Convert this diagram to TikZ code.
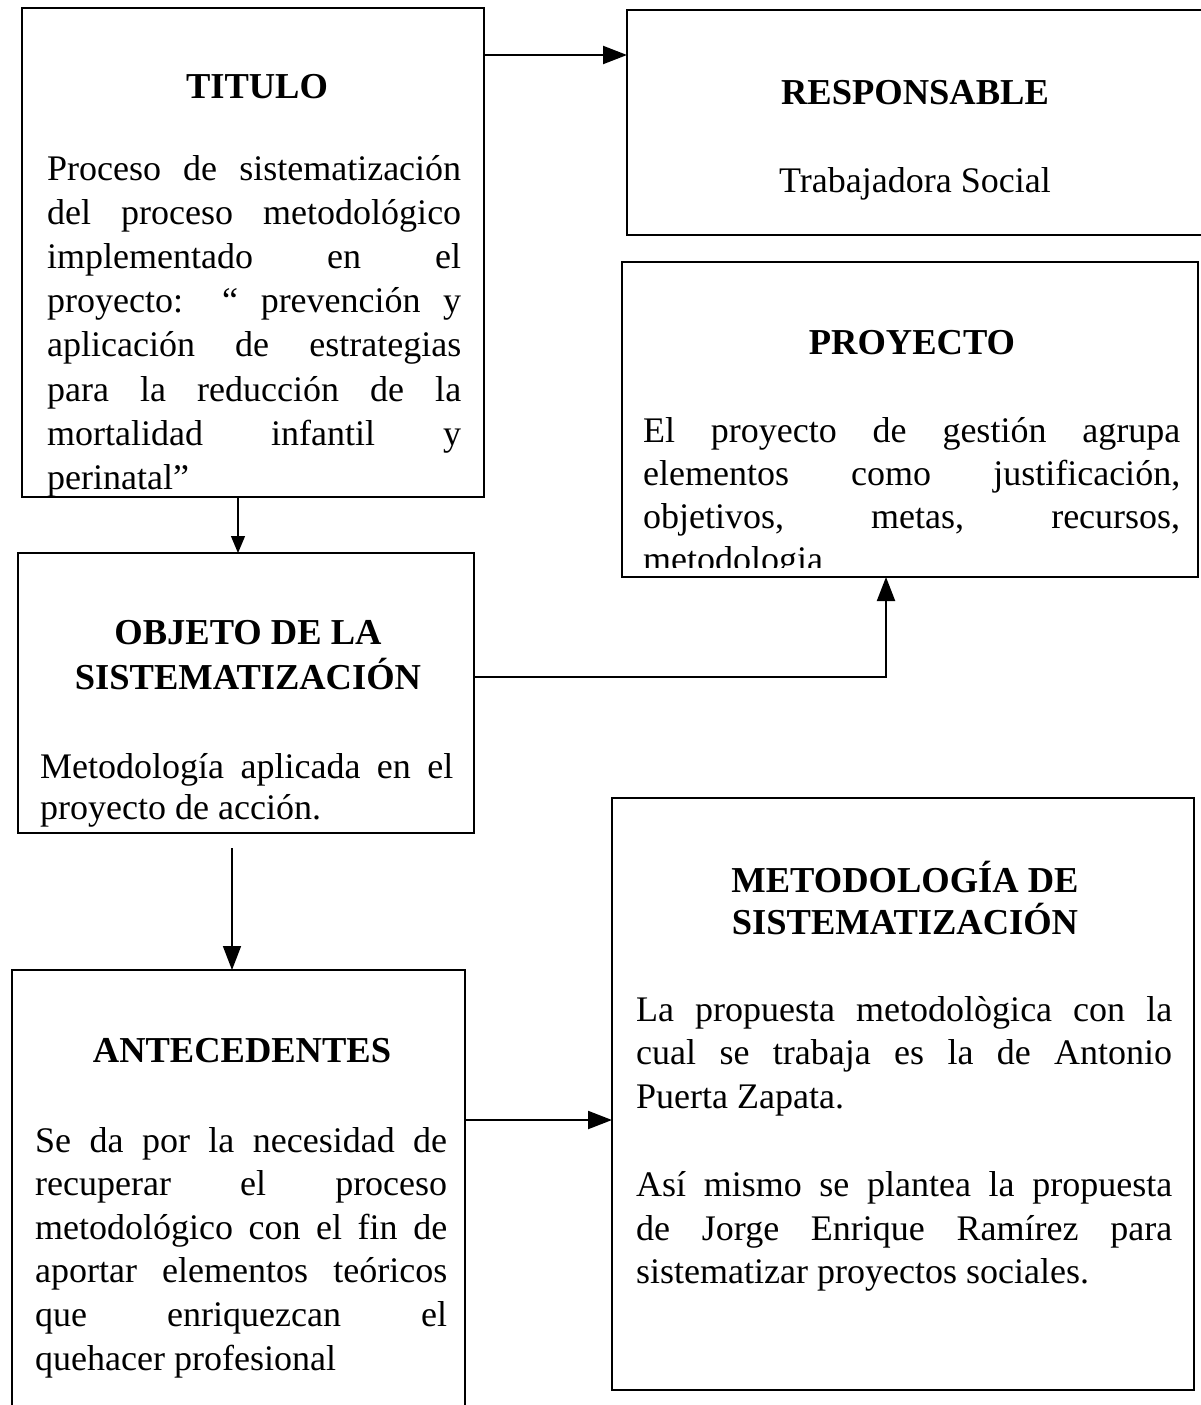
\documentclass[tikz,border=0pt]{standalone}
\usepackage{fontspec}
\setmainfont{Liberation Serif}
\usetikzlibrary{arrows.meta}
\newcommand\jl[1]{\makebox[\linewidth][s]{#1}\\}
\tikzset{
  box/.style={draw, line width=1.9pt, inner sep=0pt, outer sep=0pt, anchor=north west},
  head/.style={anchor=base, inner sep=0pt, font=\fontsize{36.5}{44}\selectfont\bfseries},
  body/.style={anchor=base west, inner sep=0pt},
  arr/.style={line width=2.1pt, -{Triangle[length=24pt,width=18pt]}},
  thinarr/.style={line width=1.2pt, -{Triangle[length=17pt,width=14pt]}},
}
\begin{document}
\begin{tikzpicture}[x=1pt,y=-1pt]
\clip (0,0) rectangle (1201,1405);
\fill[white] (0,0) rectangle (1201,1405);
% boxes
\node[box, minimum width=462pt, minimum height=489pt] (titulo) at (22,8) {};
\node[box, minimum width=650pt, minimum height=225pt] (resp) at (627,10) {};
\node[box, minimum width=576pt, minimum height=315pt] (proy) at (622,262) {};
\node[box, minimum width=456pt, minimum height=280pt] (obj) at (18,553) {};
\node[box, minimum width=453pt, minimum height=460pt] (ant) at (12,970) {};
\node[box, minimum width=582pt, minimum height=592pt] (met) at (612,798) {};
% TITULO
\node[head] (tituloH) at (257,99) {TITULO};
\begin{scope}
\clip (titulo.north west) rectangle (titulo.south east);
\node[body] (tituloB) at (47,180) {\begin{minipage}[t]{414pt}\fontsize{36}{44.2}\selectfont
\jl{Proceso de sistematización}
\jl{del proceso metodológico}
\jl{implementado en el}
\jl{proyecto: “ prevención y}
\jl{aplicación de estrategias}
\jl{para la reducción de la}
\jl{mortalidad infantil y}
perinatal”\end{minipage}};
\end{scope}
% RESPONSABLE
\node[head] (respH) at (915,104) {RESPONSABLE};
\node[anchor=base, inner sep=0pt, font=\fontsize{36}{44}\selectfont] (respB) at (915,192) {Trabajadora Social};
% PROYECTO
\node[head] (proyH) at (912,354) {PROYECTO};
\begin{scope}
\clip (proy.north west) rectangle ([yshift=10pt]proy.south east);
\node[body] (proyB) at (643,442) {\begin{minipage}[t]{537pt}\fontsize{36}{43}\selectfont
\jl{El proyecto de gestión agrupa}
\jl{elementos como justificación,}
\jl{objetivos, metas, recursos,}
metodologia\end{minipage}};
\end{scope}
% OBJETO
\node[head] (objH1) at (248,644) {OBJETO DE LA};
\node[head] (objH2) at (248,689) {SISTEMATIZACIÓN};
\node[body] (objB) at (40,778) {\begin{minipage}[t]{413pt}\fontsize{36}{41.5}\selectfont
\jl{Metodología aplicada en el}
proyecto de acción.\end{minipage}};
% ANTECEDENTES
\node[head] (antH) at (242,1062) {ANTECEDENTES};
\node[body] (antB) at (35,1152) {\begin{minipage}[t]{412pt}\fontsize{36}{43.6}\selectfont
\jl{Se da por la necesidad de}
\jl{recuperar el proceso}
\jl{metodológico con el fin de}
\jl{aportar elementos teóricos}
\jl{que enriquezcan el}
quehacer profesional\end{minipage}};
% METODOLOGIA
\node[head] (metH1) at (905,892) {METODOLOGÍA DE};
\node[head] (metH2) at (905,934) {SISTEMATIZACIÓN};
\node[body] (metB) at (636,1021) {\begin{minipage}[t]{536pt}\fontsize{36}{43.8}\selectfont
\jl{La propuesta metodològica con la}
\jl{cual se trabaja es la de Antonio}
Puerta Zapata.\\
\mbox{}\\
\jl{Así mismo se plantea la propuesta}
\jl{de Jorge Enrique Ramírez para}
sistematizar proyectos sociales.\end{minipage}};
% connectors
\coordinate (yA) at (0,55);
\coordinate (xB) at (238,0);
\coordinate (yC) at (0,677);
\coordinate (xC) at (886,0);
\coordinate (xD) at (232,0);
\coordinate (yE) at (0,1120);
\draw[arr] (titulo.east |- yA) -- (resp.west |- yA);
\draw[thinarr] (titulo.south -| xB) -- (obj.north -| xB);
\draw[arr] (obj.east |- yC) -| (proy.south -| xC);
\draw[arr, line width=1.6pt, shorten <=15pt] (obj.south -| xD) -- (ant.north -| xD);
\draw[arr] (ant.east |- yE) -- (met.west |- yE);
\end{tikzpicture}
\end{document}
